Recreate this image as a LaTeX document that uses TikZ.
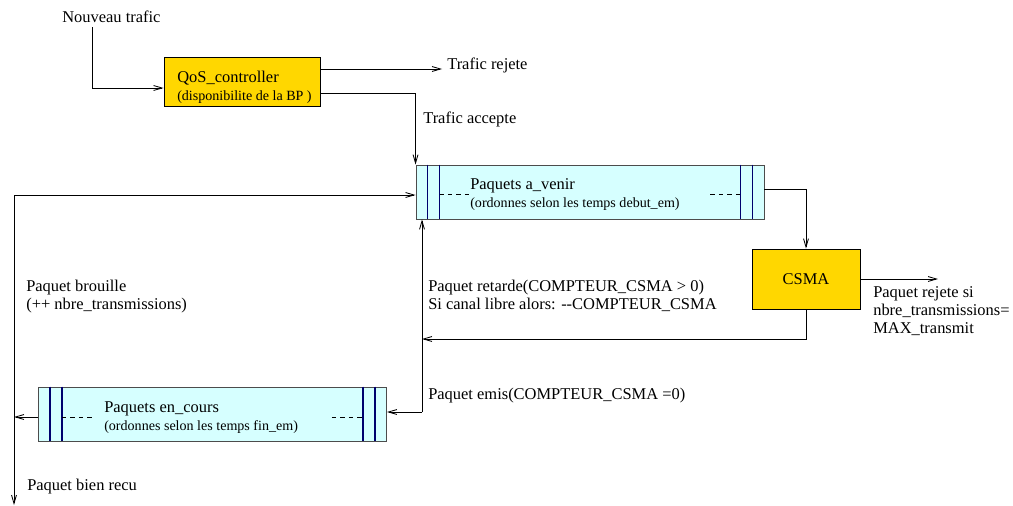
\documentclass[tikz,border=0pt]{standalone}
\usepackage{fontspec}
\setmainfont{Liberation Serif}
\usetikzlibrary{calc,arrows.meta}
\definecolor{gold}{RGB}{255,215,0}
\definecolor{lcyan}{RGB}{214,255,255}
\definecolor{navy}{RGB}{0,0,110}

\begin{document}
\begin{tikzpicture}[x=0.025cm,y=-0.025cm]
    \tikzset{%
      box/.style={draw, fill=gold, line width=0.6pt, inner sep=0pt,
        font=\fontsize{11.7}{12.8}\selectfont},
      queue/.style={draw=black!70, fill=lcyan, line width=0.6pt,
        minimum width=8.7cm, minimum height=1.35cm, inner sep=0pt},
      bar/.style={navy, line width=0.8pt},
      lbl/.style={anchor=base west, inner sep=0pt, align=left,
        font=\fontsize{11.7}{12.8}\selectfont},
      arr/.style={-{Straight Barb[length=6pt,width=3.5pt]}, line width=0.6pt},
    }
    \newcommand{\petit}{\fontsize{10}{12.8}\selectfont}
    \useasboundingbox (0,0) rectangle (1013,506);

    % controleur (base = derniere ligne)
    \node[box, minimum width=3.9cm, minimum height=1.225cm] (qos) at (242,81.5) {};
    \node[lbl] (qostxt) at (177,100)
      {QoS\_controller\\{\petit (disponibilite de la BP )}};
    \node[lbl] (nouveau) at (62,22) {Nouveau trafic};
    \node[lbl] (rejete) at (447,69) {Trafic rejete};
    \node[lbl] (accepte) at (423,123) {Trafic accepte};
    \coordinate (entree) at (92,27);
    \draw[arr] (entree) |- ($(qos.west)+(0,6.5)$);
    \draw[arr] ($(qos.east)+(0,-12.5)$) -- ($(rejete.base west)+(-5,0)$);

    % file a_venir
    \node[queue] (avenir) at (590,192) {};
    \draw[bar] ($(avenir.north west)+(12,0)$) -- ($(avenir.south west)+(12,0)$);
    \draw[bar] ($(avenir.north west)+(24,0)$) -- ($(avenir.south west)+(24,0)$);
    \draw[bar] ($(avenir.north east)+(-12,0)$) -- ($(avenir.south east)+(-12,0)$);
    \draw[bar] ($(avenir.north east)+(-24,0)$) -- ($(avenir.south east)+(-24,0)$);
    \draw[dashed] ($(avenir.west)+(24,2)$) -- ($(avenir.west)+(54,2)$);
    \draw[dashed] ($(avenir.east)+(-54,2)$) -- ($(avenir.east)+(-24,2)$);
    \node[lbl] (avenirtxt) at (470,207)
      {Paquets a\_venir\\{\petit (ordonnes selon les temps debut\_em)}};
    \draw[arr] ($(qos.east)+(0,11.5)$) -| (avenir.north west);

    % CSMA
    \node[box, minimum width=2.7cm, minimum height=1.5cm] (csma) at (806,279) {CSMA};
    \node[lbl] (rejetesi) at (873,333)
      {Paquet rejete si\\nbre\_transmissions=\\MAX\_transmit};
    \coordinate (sortie) at (938,279);
    \draw[arr] ($(avenir.east)+(0,-3)$) -| (csma.north);
    \draw[arr] (csma.east) -- (sortie);

    % file en_cours
    \node[queue] (encours) at (212.5,414) {};
    \draw[bar] ($(encours.north west)+(12,0)$) -- ($(encours.south west)+(12,0)$);
    \draw[bar] ($(encours.north west)+(24,0)$) -- ($(encours.south west)+(24,0)$);
    \draw[bar] ($(encours.north east)+(-12,0)$) -- ($(encours.south east)+(-12,0)$);
    \draw[bar] ($(encours.north east)+(-24,0)$) -- ($(encours.south east)+(-24,0)$);
    \draw[dashed] ($(encours.west)+(24,3)$) -- ($(encours.west)+(54,3)$);
    \draw[dashed] ($(encours.east)+(-55,3)$) -- ($(encours.east)+(-25,3)$);
    \node[lbl] (encourstxt) at (104,430)
      {Paquets en\_cours\\{\petit (ordonnes selon les temps fin\_em)}};

    % retour CSMA
    \coordinate (retour) at (422,339);
    \coordinate (pivot) at (422,412);
    \draw[arr] (csma.south) |- (retour);
    \draw[arr] (pivot) -- (pivot |- avenir.south);
    \draw[arr] (pivot) -- (encours.east |- pivot);
    \node[lbl] (retarde) at (428,309)
      {Paquet retarde(COMPTEUR\_CSMA > 0)\\Si canal libre alors: -{}-COMPTEUR\_CSMA};
    \node[lbl] (emis) at (428,399) {Paquet emis(COMPTEUR\_CSMA =0)};

    % sortie / brouillage
    \coordinate (coin) at (14,195);
    \coordinate (fin) at (14,505);
    \draw[arr] ($(encours.west)+(0,3)$) coordinate (s) -- (s -| coin);
    \draw[arr] (coin) -- (fin);
    \draw[arr] (coin) -- (avenir.west |- coin);
    \node[lbl] (brouille) at (26,309)
      {Paquet brouille\\(++ nbre\_transmissions)};
    \node[lbl] (recu) at (27,490) {Paquet bien recu};
  \end{tikzpicture}
\end{document}
